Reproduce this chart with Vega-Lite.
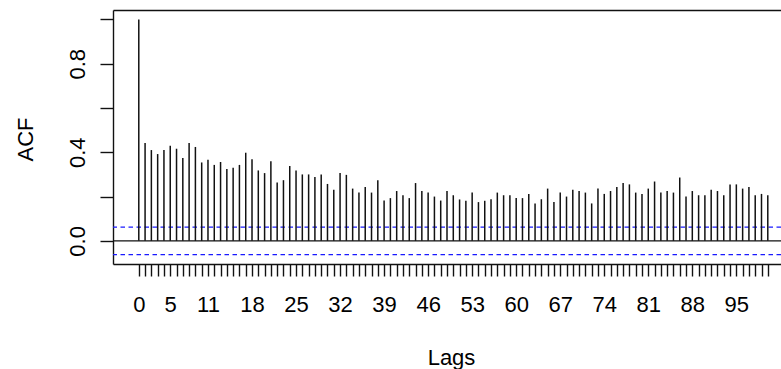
{
  "$schema": "https://vega.github.io/schema/vega-lite/v6.json",
  "width": 668,
  "height": 254,
  "autosize": {"type": "none"},
  "padding": {"left": 113, "top": 10, "right": 0, "bottom": 105},
  "background": "white",
  "config": {
    "view": {"stroke": null},
    "axis": {
      "grid": false,
      "domainColor": "#111111",
      "tickColor": "#111111",
      "labelColor": "black",
      "titleColor": "black",
      "labelFont": "Liberation Sans",
      "titleFont": "Liberation Sans",
      "labelFontSize": 22,
      "titleFontSize": 22,
      "titleFontWeight": "normal",
      "domainWidth": 1.4,
      "tickWidth": 1.4
    }
  },
  "datasets": {
    "acf": [
      {"lag": 0, "acf": 1.0}, {"lag": 1, "acf": 0.442}, {"lag": 2, "acf": 0.41}, {"lag": 3, "acf": 0.392},
      {"lag": 4, "acf": 0.41}, {"lag": 5, "acf": 0.429}, {"lag": 6, "acf": 0.416}, {"lag": 7, "acf": 0.374},
      {"lag": 8, "acf": 0.442}, {"lag": 9, "acf": 0.424}, {"lag": 10, "acf": 0.354}, {"lag": 11, "acf": 0.366},
      {"lag": 12, "acf": 0.343}, {"lag": 13, "acf": 0.356}, {"lag": 14, "acf": 0.324}, {"lag": 15, "acf": 0.33},
      {"lag": 16, "acf": 0.343}, {"lag": 17, "acf": 0.398}, {"lag": 18, "acf": 0.368}, {"lag": 19, "acf": 0.318},
      {"lag": 20, "acf": 0.306}, {"lag": 21, "acf": 0.36}, {"lag": 22, "acf": 0.264}, {"lag": 23, "acf": 0.274},
      {"lag": 24, "acf": 0.338}, {"lag": 25, "acf": 0.318}, {"lag": 26, "acf": 0.3}, {"lag": 27, "acf": 0.3},
      {"lag": 28, "acf": 0.288}, {"lag": 29, "acf": 0.3}, {"lag": 30, "acf": 0.257}, {"lag": 31, "acf": 0.231},
      {"lag": 32, "acf": 0.306}, {"lag": 33, "acf": 0.298}, {"lag": 34, "acf": 0.236}, {"lag": 35, "acf": 0.218},
      {"lag": 36, "acf": 0.243}, {"lag": 37, "acf": 0.218}, {"lag": 38, "acf": 0.274}, {"lag": 39, "acf": 0.182},
      {"lag": 40, "acf": 0.193}, {"lag": 41, "acf": 0.225}, {"lag": 42, "acf": 0.206}, {"lag": 43, "acf": 0.193},
      {"lag": 44, "acf": 0.261}, {"lag": 45, "acf": 0.225}, {"lag": 46, "acf": 0.218}, {"lag": 47, "acf": 0.2},
      {"lag": 48, "acf": 0.182}, {"lag": 49, "acf": 0.225}, {"lag": 50, "acf": 0.206}, {"lag": 51, "acf": 0.187},
      {"lag": 52, "acf": 0.181}, {"lag": 53, "acf": 0.218}, {"lag": 54, "acf": 0.175}, {"lag": 55, "acf": 0.181},
      {"lag": 56, "acf": 0.188}, {"lag": 57, "acf": 0.218}, {"lag": 58, "acf": 0.206}, {"lag": 59, "acf": 0.206},
      {"lag": 60, "acf": 0.193}, {"lag": 61, "acf": 0.193}, {"lag": 62, "acf": 0.212}, {"lag": 63, "acf": 0.169},
      {"lag": 64, "acf": 0.188}, {"lag": 65, "acf": 0.236}, {"lag": 66, "acf": 0.175}, {"lag": 67, "acf": 0.218},
      {"lag": 68, "acf": 0.2}, {"lag": 69, "acf": 0.231}, {"lag": 70, "acf": 0.225}, {"lag": 71, "acf": 0.218},
      {"lag": 72, "acf": 0.169}, {"lag": 73, "acf": 0.236}, {"lag": 74, "acf": 0.212}, {"lag": 75, "acf": 0.225},
      {"lag": 76, "acf": 0.243}, {"lag": 77, "acf": 0.261}, {"lag": 78, "acf": 0.255}, {"lag": 79, "acf": 0.218},
      {"lag": 80, "acf": 0.212}, {"lag": 81, "acf": 0.236}, {"lag": 82, "acf": 0.268}, {"lag": 83, "acf": 0.218},
      {"lag": 84, "acf": 0.225}, {"lag": 85, "acf": 0.218}, {"lag": 86, "acf": 0.286}, {"lag": 87, "acf": 0.2},
      {"lag": 88, "acf": 0.225}, {"lag": 89, "acf": 0.206}, {"lag": 90, "acf": 0.206}, {"lag": 91, "acf": 0.231},
      {"lag": 92, "acf": 0.225}, {"lag": 93, "acf": 0.206}, {"lag": 94, "acf": 0.255}, {"lag": 95, "acf": 0.255},
      {"lag": 96, "acf": 0.236}, {"lag": 97, "acf": 0.243}, {"lag": 98, "acf": 0.206}, {"lag": 99, "acf": 0.212},
      {"lag": 100, "acf": 0.206}
    ],
    "ci": [{"y": 0.062}, {"y": -0.062}],
    "zero": [{"y": 0}]
  },
  "resolve": {"axis": {"x": "independent"}},
  "layer": [
    {
      "data": {"name": "zero"},
      "mark": {"type": "rule", "color": "#111111", "strokeWidth": 1.4},
      "encoding": {
        "y": {"field": "y", "type": "quantitative"}
      }
    },
    {
      "data": {"name": "ci"},
      "mark": {"type": "rule", "color": "#1a1aff", "strokeWidth": 1.4, "strokeDash": [4.5, 3.5]},
      "encoding": {
        "y": {"field": "y", "type": "quantitative"}
      }
    },
    {
      "data": {"name": "acf"},
      "mark": {"type": "rule", "color": "#111111", "strokeWidth": 1.5},
      "encoding": {
        "x": {
          "field": "lag",
          "type": "quantitative",
          "scale": {"domain": [-4.1, 102.1], "nice": false, "zero": false},
          "axis": {
            "orient": "bottom",
            "values": [0,1,2,3,4,5,6,7,8,9,10,11,12,13,14,15,16,17,18,19,20,21,22,23,24,25,26,27,28,29,30,31,32,33,34,35,36,37,38,39,40,41,42,43,44,45,46,47,48,49,50,51,52,53,54,55,56,57,58,59,60,61,62,63,64,65,66,67,68,69,70,71,72,73,74,75,76,77,78,79,80,81,82,83,84,85,86,87,88,89,90,91,92,93,94,95,96,97,98,99,100],
            "labelExpr": "indexof([0,5,11,18,25,32,39,46,53,60,67,74,81,88,95], datum.value) >= 0 ? datum.label : ''",
            "labelOverlap": false,
            "labelFlush": false,
            "tickSize": 12,
            "labelPadding": 18,
            "title": "Lags",
            "titleX": 338,
            "titleY": 100,
            "titleAlign": "center",
            "titleBaseline": "alphabetic"
          }
        },
        "y": {
          "field": "acf",
          "type": "quantitative",
          "scale": {"domain": [-0.1045, 1.0425], "nice": false, "zero": false},
          "axis": {
            "values": [0, 0.2, 0.4, 0.6, 0.8, 1.0],
            "labelExpr": "datum.value == 0 || datum.value == 0.4 || datum.value == 0.8 ? format(datum.value, '.1f') : ''",
            "tickSize": 13,
            "labelAngle": 270,
            "labelAlign": "center",
            "labelBaseline": "alphabetic",
            "labelPadding": 16,
            "title": "ACF",
            "titleAngle": 270,
            "titleX": -81,
            "titleY": 129,
            "titleAlign": "center",
            "titleBaseline": "alphabetic"
          }
        },
        "y2": {"datum": 0}
      }
    },
    {
      "data": {"name": "zero"},
      "mark": {"type": "rule", "opacity": 0},
      "encoding": {
        "x": {
          "datum": 0,
          "type": "quantitative",
          "axis": {"orient": "top", "ticks": false, "labels": false, "title": null, "domain": true}
        }
      }
    }
  ]
}
